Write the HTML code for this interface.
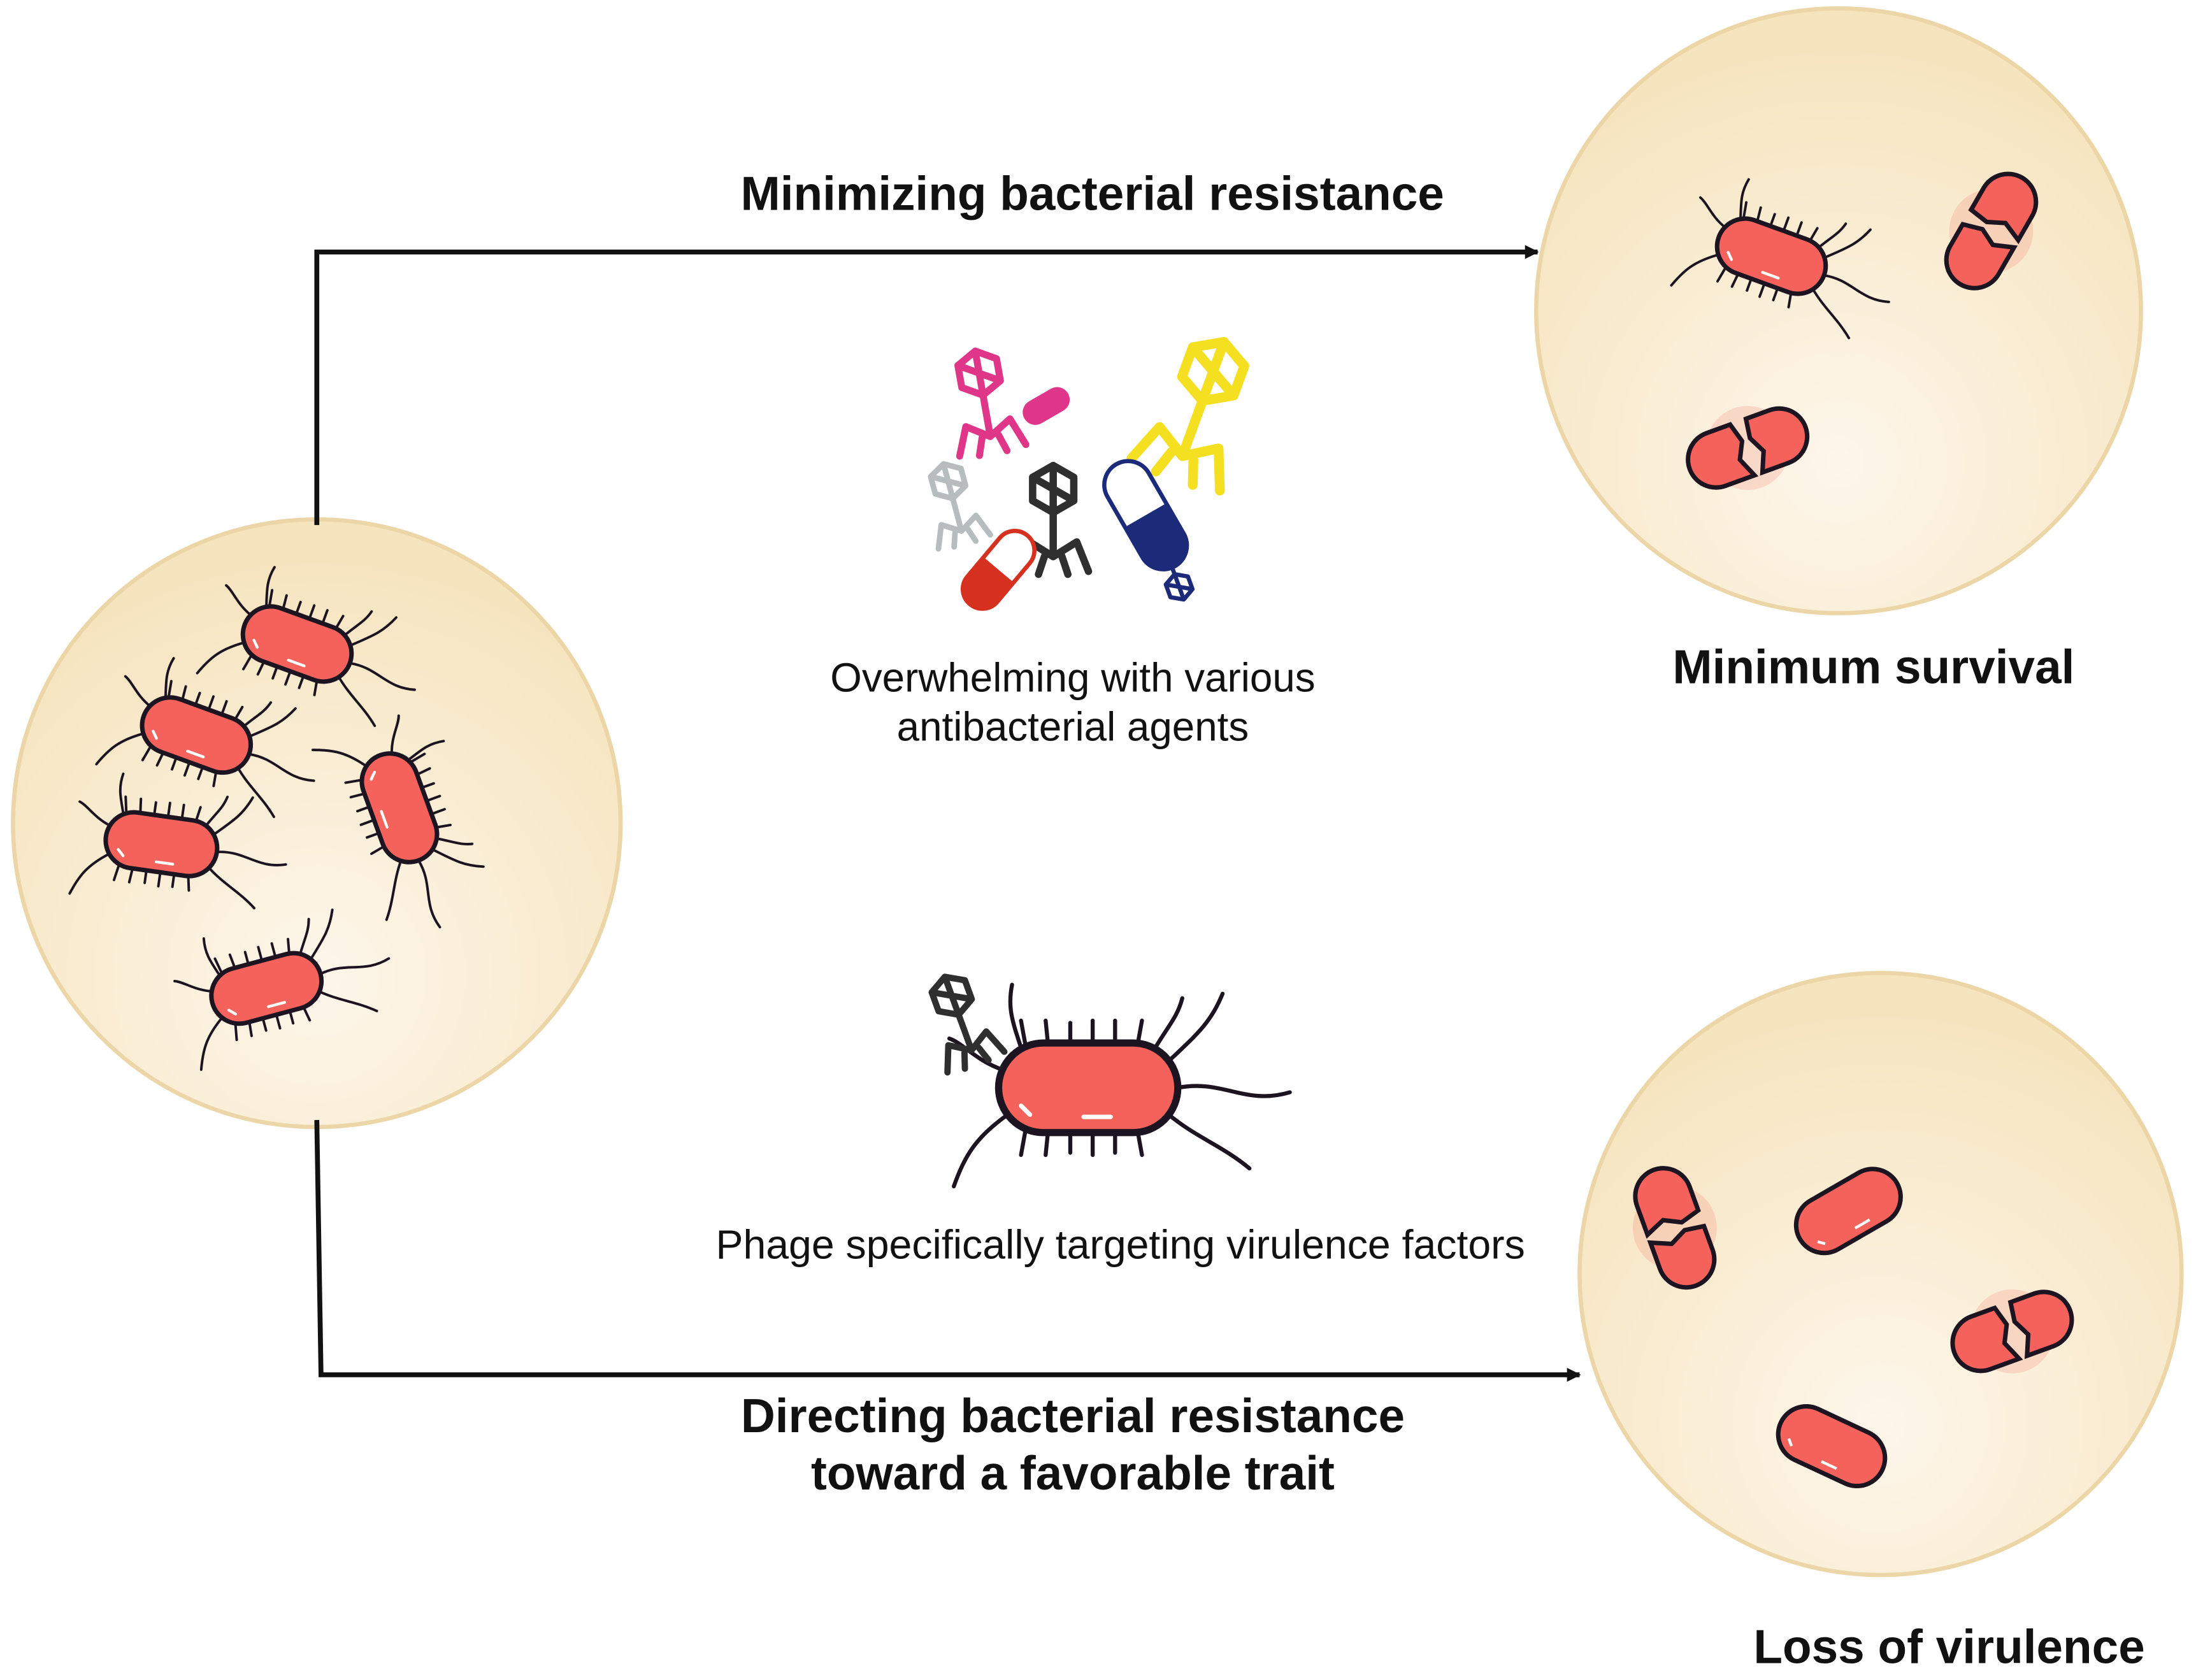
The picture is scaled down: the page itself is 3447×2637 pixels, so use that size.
<!DOCTYPE html>
<html><head><meta charset="utf-8"><style>
html,body{margin:0;padding:0;background:#fff;width:3447px;height:2637px;overflow:hidden}
svg{display:block}
text{font-family:"Liberation Sans",Arial,sans-serif;fill:#111}
</style></head><body>
<svg width="3447" height="2637" viewBox="0 0 1568 1200" xmlns="http://www.w3.org/2000/svg">
<defs>
<radialGradient id="bg" cx="50%" cy="75%" r="70%">
<stop offset="0" stop-color="#fdf6ea"/><stop offset="1" stop-color="#f6e4be"/></radialGradient>
<marker id="ar" markerWidth="10" markerHeight="10" refX="9" refY="5" orient="auto" markerUnits="userSpaceOnUse">
<path d="M0,0 L10,5 L0,10 z" fill="#111"/></marker>
<g id="cell">
<rect x="-40" y="-20" width="80" height="40" rx="20" fill="#f4625b" stroke="#1c1420" stroke-width="3.2"/>
<line x1="-30" y1="8" x2="-26" y2="12" stroke="#fff" stroke-width="2"/>
<line x1="-2" y1="13" x2="10" y2="13" stroke="#fff" stroke-width="2"/>
</g>
<g id="bac" fill="none" stroke="#1c1420" stroke-width="1.8" stroke-linecap="round">
<path d="M-28,-19 L-30,-30 M-18,-20 L-19,-30 M-8,-20 L-8,-29 M2,-20 L2,-30 M12,-20 L12,-30 M22,-19 L24,-30 M-28,19 L-30,30 M-18,20 L-19,30 M-8,20 L-8,29 M2,20 L2,30 M12,20 L12,29 M22,19 L24,30"/>
<path d="M36,-12 C50,-25 55,-30 60,-42 M40,0 C60,-4 70,8 90,2 M36,12 C48,22 60,26 72,36 M-36,12 C-50,22 -55,30 -60,44 M-38,-8 C-50,-12 -56,-20 -62,-22 M30,-18 C36,-28 40,-32 42,-40 M-30,-18 C-34,-30 -36,-36 -34,-46"/>
<use href="#cell"/>
</g>
<g id="split">
<circle cx="0" cy="0" r="30" fill="#f4625b" opacity="0.18"/>
<path d="M-6,-20 L-24,-20 A20,20 0 0 0 -24,20 L-2,20 L-8,6 L-2,-6 Z" fill="#f4625b" stroke="#1c1420" stroke-width="3.2"/>
<path d="M6,-20 L24,-20 A20,20 0 0 1 24,20 L4,20 L10,6 L4,-6 Z" fill="#f4625b" stroke="#1c1420" stroke-width="3.2"/>
</g>
<g id="phage" fill="none" stroke-width="5" stroke-linejoin="round" stroke-linecap="round">
<path d="M0,-50 L14,-42 L14,-26 L0,-18 L-14,-26 L-14,-42 Z M-14,-42 L14,-26 M0,-50 L0,-18"/>
<path d="M0,-18 L0,12 M0,12 L-16,2 L-24,22 M0,12 L16,2 L24,22 M-6,12 L-10,24 M6,12 L10,24"/>
</g>
</defs>

<circle cx="226" cy="588" r="217" fill="url(#bg)" stroke="#ecd6a8" stroke-width="3"/>
<circle cx="1313" cy="222" r="216" fill="url(#bg)" stroke="#ecd6a8" stroke-width="3"/>
<circle cx="1343" cy="910" r="215" fill="url(#bg)" stroke="#ecd6a8" stroke-width="3"/>

<path d="M226,375 L226,180 L1098,180" fill="none" stroke="#111" stroke-width="3.5" marker-end="url(#ar)"/>
<path d="M226,800 L229,982 L1128,982" fill="none" stroke="#111" stroke-width="3.5" marker-end="url(#ar)"/>

<use href="#bac" transform="translate(212,460) rotate(20)"/>
<use href="#bac" transform="translate(140,525) rotate(20)"/>
<use href="#bac" transform="translate(115,603) rotate(8)"/>
<use href="#bac" transform="translate(285,577) rotate(70)"/>
<use href="#bac" transform="translate(190,706) rotate(-15)"/>

<use href="#bac" transform="translate(1265,183) rotate(20)"/>
<use href="#split" transform="translate(1422,165) rotate(-60)"/>
<use href="#split" transform="translate(1248,320) rotate(-20)"/>

<use href="#split" transform="translate(1196,877) rotate(70)"/>
<use href="#cell" transform="translate(1320,865) rotate(-30)"/>
<use href="#split" transform="translate(1437,951) rotate(-20)"/>
<use href="#cell" transform="translate(1308,1033) rotate(25)"/>

<use href="#phage" stroke="#e0368a" transform="translate(705,300) rotate(-10) scale(1)"/>
<use href="#phage" stroke="#f4e021" transform="translate(850,310) rotate(20) scale(1.4)"/>
<use href="#phage" stroke="#b7bcbe" transform="translate(684,370) rotate(-15) scale(0.8)"/>
<use href="#phage" stroke="#2f2f2f" transform="translate(752,385) scale(1.05)"/>
<use href="#phage" stroke="#1c2a7a" transform="translate(835,400) rotate(160) scale(0.6)"/>
<g transform="translate(713,407) rotate(-50)">
<rect x="-32" y="-14" width="64" height="28" rx="14" fill="#fff" stroke="#d63020" stroke-width="3"/>
<path d="M0,-14 L-18,-14 A14,14 0 0 0 -18,14 L0,14 Z" fill="#d63020"/></g>
<g transform="translate(818,368) rotate(60)">
<rect x="-42" y="-17" width="84" height="34" rx="17" fill="#fff" stroke="#1c2a7a" stroke-width="3"/>
<path d="M0,-17 L25,-17 A17,17 0 0 1 25,17 L0,17 Z" fill="#1c2a7a"/></g>
<g transform="translate(747,290) rotate(-30)"><rect x="-18" y="-9" width="36" height="18" rx="9" fill="#e0368a"/></g>

<use href="#bac" transform="translate(777,777) scale(1.6)"/>
<use href="#phage" stroke="#2f2f2f" transform="translate(690,740) rotate(-20) scale(0.9)"/>

<text x="780" y="150" font-size="34" font-weight="bold" text-anchor="middle">Minimizing bacterial resistance</text>
<text x="1338" y="488" font-size="34" font-weight="bold" text-anchor="middle">Minimum survival</text>
<text x="766" y="494" font-size="29" text-anchor="middle">Overwhelming with various</text>
<text x="766" y="529" font-size="29" text-anchor="middle">antibacterial agents</text>
<text x="800" y="899" font-size="29.3" text-anchor="middle">Phage specifically targeting virulence factors</text>
<text x="766" y="1023" font-size="34" font-weight="bold" text-anchor="middle">Directing bacterial resistance</text>
<text x="766" y="1064" font-size="34" font-weight="bold" text-anchor="middle">toward a favorable trait</text>
<text x="1392" y="1188" font-size="34" font-weight="bold" text-anchor="middle">Loss of virulence</text>
</svg>
</body></html>
